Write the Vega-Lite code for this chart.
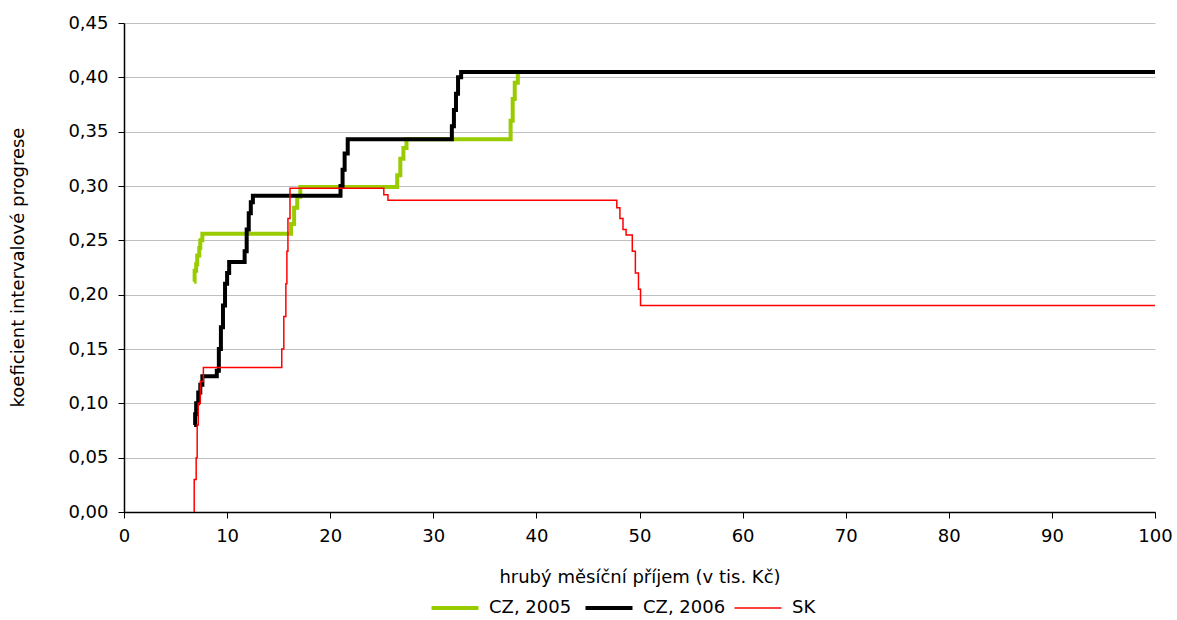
{
  "$schema": "https://vega.github.io/schema/vega-lite/v6.json",
  "autosize": "none",
  "width": 1031,
  "height": 489,
  "padding": {"left": 124, "top": 23, "right": 22, "bottom": 108},
  "background": "#ffffff",
  "config": {
    "view": {"stroke": null},
    "font": "DejaVu Sans"
  },
  "data": {
    "values": [
      {"s": "CZ, 2005", "x": 6.8, "y": 0.212},
      {"s": "CZ, 2005", "x": 6.85, "y": 0.222},
      {"s": "CZ, 2005", "x": 7.0, "y": 0.228},
      {"s": "CZ, 2005", "x": 7.1, "y": 0.236},
      {"s": "CZ, 2005", "x": 7.3, "y": 0.243},
      {"s": "CZ, 2005", "x": 7.4, "y": 0.25},
      {"s": "CZ, 2005", "x": 7.6, "y": 0.256},
      {"s": "CZ, 2005", "x": 16.0, "y": 0.256},
      {"s": "CZ, 2005", "x": 16.2, "y": 0.265},
      {"s": "CZ, 2005", "x": 16.5, "y": 0.28},
      {"s": "CZ, 2005", "x": 16.8, "y": 0.29},
      {"s": "CZ, 2005", "x": 17.1, "y": 0.299},
      {"s": "CZ, 2005", "x": 26.3, "y": 0.299},
      {"s": "CZ, 2005", "x": 26.5, "y": 0.31},
      {"s": "CZ, 2005", "x": 26.8, "y": 0.325},
      {"s": "CZ, 2005", "x": 27.1, "y": 0.335},
      {"s": "CZ, 2005", "x": 27.4, "y": 0.343},
      {"s": "CZ, 2005", "x": 37.3, "y": 0.343},
      {"s": "CZ, 2005", "x": 37.5, "y": 0.36},
      {"s": "CZ, 2005", "x": 37.7, "y": 0.38},
      {"s": "CZ, 2005", "x": 37.9, "y": 0.395},
      {"s": "CZ, 2005", "x": 38.2, "y": 0.405},
      {"s": "CZ, 2005", "x": 100, "y": 0.405},
      {"s": "CZ, 2006", "x": 6.8, "y": 0.08},
      {"s": "CZ, 2006", "x": 6.9, "y": 0.09},
      {"s": "CZ, 2006", "x": 7.0, "y": 0.1},
      {"s": "CZ, 2006", "x": 7.2, "y": 0.11},
      {"s": "CZ, 2006", "x": 7.4, "y": 0.117},
      {"s": "CZ, 2006", "x": 7.6, "y": 0.125},
      {"s": "CZ, 2006", "x": 8.9, "y": 0.125},
      {"s": "CZ, 2006", "x": 9.0, "y": 0.13},
      {"s": "CZ, 2006", "x": 9.2, "y": 0.15},
      {"s": "CZ, 2006", "x": 9.4, "y": 0.17},
      {"s": "CZ, 2006", "x": 9.6, "y": 0.19},
      {"s": "CZ, 2006", "x": 9.8, "y": 0.21},
      {"s": "CZ, 2006", "x": 10.0, "y": 0.22},
      {"s": "CZ, 2006", "x": 10.2, "y": 0.23},
      {"s": "CZ, 2006", "x": 11.5, "y": 0.23},
      {"s": "CZ, 2006", "x": 11.7, "y": 0.24},
      {"s": "CZ, 2006", "x": 11.9, "y": 0.26},
      {"s": "CZ, 2006", "x": 12.1, "y": 0.275},
      {"s": "CZ, 2006", "x": 12.3, "y": 0.285},
      {"s": "CZ, 2006", "x": 12.5, "y": 0.291},
      {"s": "CZ, 2006", "x": 20.8, "y": 0.291},
      {"s": "CZ, 2006", "x": 21.0, "y": 0.3},
      {"s": "CZ, 2006", "x": 21.2, "y": 0.315},
      {"s": "CZ, 2006", "x": 21.4, "y": 0.33},
      {"s": "CZ, 2006", "x": 21.7, "y": 0.343},
      {"s": "CZ, 2006", "x": 31.6, "y": 0.343},
      {"s": "CZ, 2006", "x": 31.8, "y": 0.355},
      {"s": "CZ, 2006", "x": 32.0, "y": 0.37},
      {"s": "CZ, 2006", "x": 32.2, "y": 0.385},
      {"s": "CZ, 2006", "x": 32.4, "y": 0.4},
      {"s": "CZ, 2006", "x": 32.7, "y": 0.405},
      {"s": "CZ, 2006", "x": 100, "y": 0.405},
      {"s": "SK", "x": 6.8, "y": 0.0},
      {"s": "SK", "x": 6.81, "y": 0.03},
      {"s": "SK", "x": 7.0, "y": 0.05},
      {"s": "SK", "x": 7.1, "y": 0.08},
      {"s": "SK", "x": 7.2, "y": 0.1},
      {"s": "SK", "x": 7.4, "y": 0.12},
      {"s": "SK", "x": 7.7, "y": 0.133},
      {"s": "SK", "x": 15.2, "y": 0.133},
      {"s": "SK", "x": 15.3, "y": 0.15},
      {"s": "SK", "x": 15.5, "y": 0.18},
      {"s": "SK", "x": 15.7, "y": 0.21},
      {"s": "SK", "x": 15.8, "y": 0.24},
      {"s": "SK", "x": 15.9, "y": 0.27},
      {"s": "SK", "x": 16.1, "y": 0.298},
      {"s": "SK", "x": 24.7, "y": 0.298},
      {"s": "SK", "x": 25.2, "y": 0.292},
      {"s": "SK", "x": 25.6, "y": 0.287},
      {"s": "SK", "x": 47.4, "y": 0.287},
      {"s": "SK", "x": 47.8, "y": 0.28},
      {"s": "SK", "x": 48.1, "y": 0.27},
      {"s": "SK", "x": 48.4, "y": 0.26},
      {"s": "SK", "x": 48.7, "y": 0.255},
      {"s": "SK", "x": 49.1, "y": 0.255},
      {"s": "SK", "x": 49.3, "y": 0.24},
      {"s": "SK", "x": 49.6, "y": 0.22},
      {"s": "SK", "x": 49.9, "y": 0.205},
      {"s": "SK", "x": 50.1, "y": 0.19},
      {"s": "SK", "x": 100, "y": 0.19}
    ]
  },
  "mark": {"type": "line", "clip": true, "strokeJoin": "miter", "interpolate": "step-after"},
  "encoding": {
    "x": {
      "field": "x",
      "type": "quantitative",
      "scale": {"domain": [0, 100], "nice": false},
      "axis": {
        "values": [0, 10, 20, 30, 40, 50, 60, 70, 80, 90, 100],
        "grid": false,
        "labelFlush": false,
        "domainColor": "#000000",
        "domainWidth": 1.5,
        "tickColor": "#000000",
        "tickSize": 6,
        "labelPadding": 9,
        "labelFontSize": 18,
        "labelColor": "#000000",
        "labelFont": "DejaVu Sans",
        "title": "hrubý měsíční příjem (v tis. Kč)",
        "titleFont": "DejaVu Sans",
        "titleFontSize": 18,
        "titleFontWeight": "normal",
        "titleColor": "#000000",
        "titleY": 65,
        "titleBaseline": "middle"
      }
    },
    "y": {
      "field": "y",
      "type": "quantitative",
      "scale": {"domain": [0, 0.45], "nice": false},
      "axis": {
        "values": [0, 0.05, 0.1, 0.15, 0.2, 0.25, 0.3, 0.35, 0.4, 0.45],
        "labelExpr": "replace(format(datum.value, '.2f'), '.', ',')",
        "grid": true,
        "labelFlush": false,
        "gridColor": "#c0c0c0",
        "gridWidth": 1,
        "domainColor": "#000000",
        "domainWidth": 1.5,
        "tickColor": "#000000",
        "tickSize": 6,
        "labelPadding": 10,
        "labelFontSize": 18,
        "labelColor": "#000000",
        "labelFont": "DejaVu Sans",
        "title": "koeficient intervalové progrese",
        "titleFont": "DejaVu Sans",
        "titleFontSize": 18,
        "titleFontWeight": "normal",
        "titleColor": "#000000",
        "titleX": -106,
        "titleY": 244,
        "titleBaseline": "middle",
        "titleAngle": -90
      }
    },
    "color": {
      "field": "s",
      "type": "nominal",
      "scale": {"domain": ["CZ, 2005", "CZ, 2006", "SK"], "range": ["#99cc00", "#000000", "#ff0000"]},
      "legend": {
        "title": null,
        "orient": "none",
        "direction": "horizontal",
        "legendX": 322,
        "legendY": 576,
        "symbolType": "stroke",
        "symbolSize": 2209,
        "symbolStrokeWidth": 4,
        "labelFontSize": 18,
        "labelFont": "DejaVu Sans",
        "labelColor": "#000000",
        "labelOffset": 25,
        "columnPadding": 5,
        "encode": {
          "symbols": {"update": {"strokeWidth": {"signal": "datum.value === 'SK' ? 1.5 : 4"}}}
        }
      }
    },
    "strokeWidth": {
      "condition": {"test": "datum.s === 'SK'", "value": 1.5},
      "value": 4
    }
  }
}
